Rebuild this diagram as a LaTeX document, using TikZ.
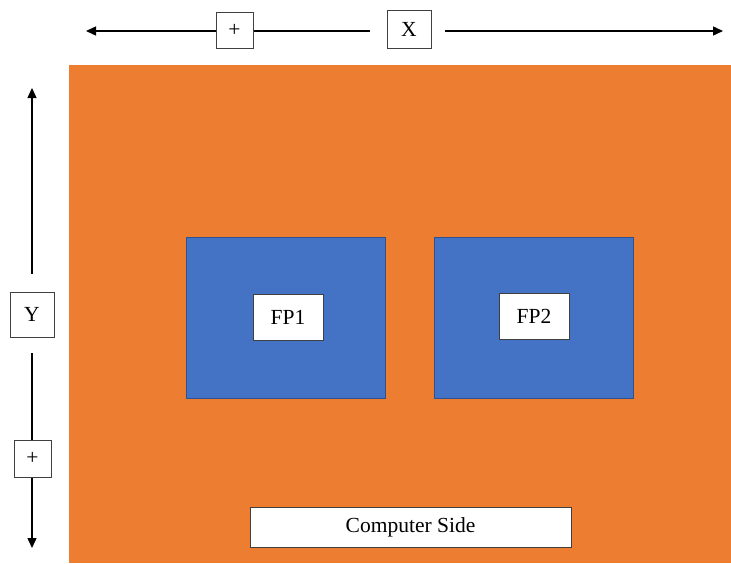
\documentclass[tikz,border=0pt]{standalone}
\usepackage{fontspec}
\setmainfont{Liberation Serif}
\usetikzlibrary{arrows.meta}
\definecolor{bgorange}{HTML}{ED7D31}
\definecolor{fpblue}{HTML}{4472C4}
\definecolor{fpborder}{HTML}{2F528F}
\tikzset{
  lbl/.style={draw=black!75, line width=1pt, fill=white, inner sep=0pt, font=\fontsize{21.5}{21.5}\selectfont},
  ax/.style={draw=black, line width=1.4pt},
  axarr/.style={ax, -{Triangle[length=10pt,width=9pt]}},
  panel/.style={draw=fpborder, line width=1pt, fill=fpblue}
}
\begin{document}
\begin{tikzpicture}[x=1pt,y=-1pt]
\useasboundingbox (0,0) rectangle (731,563);
% background
\fill[bgorange] (69,65) rectangle (731,563);
% panels
\node[panel, minimum width=199pt, minimum height=161pt] (p1) at (285.5,317.5) {};
\node[panel, minimum width=199pt, minimum height=161pt] (p2) at (533.5,317.5) {};
\node[lbl, minimum width=70pt, minimum height=46pt] (fp1) at (288,317) {FP1};
\node[lbl, minimum width=70pt, minimum height=46pt] (fp2) at (534,316) {FP2};
\node[lbl, minimum width=321pt, minimum height=40pt] (cs) at (410.5,527) {Computer Side};
% X axis
\node[lbl, minimum width=37pt, minimum height=36pt] (xp) at (234.5,30) {+};
\node[lbl, minimum width=44pt, minimum height=38pt] (xl) at (409,29) {X};
\coordinate (xleft) at (86,31);
\coordinate (xmid) at (370,31);
\coordinate (xrs) at (445,31);
\coordinate (xright) at (723,31);
\draw[axarr] (xp.west |- xleft) -- (xleft);
\draw[ax] (xp.east |- xmid) -- (xmid);
\draw[axarr] (xrs) -- (xright);
% Y axis
\node[lbl, minimum width=44pt, minimum height=45pt] (yl) at (32,314.5) {Y};
\node[lbl, minimum width=37pt, minimum height=37pt] (yp) at (32.5,458.5) {+};
\coordinate (ytop) at (32,88);
\coordinate (yts) at (32,274);
\coordinate (ybs) at (32,353);
\coordinate (ybot) at (32,548);
\draw[axarr] (yts) -- (ytop);
\draw[ax] (ybs) -- (ybs |- yp.north);
\draw[axarr] (ybs |- yp.south) -- (ybot);
\end{tikzpicture}
\end{document}
